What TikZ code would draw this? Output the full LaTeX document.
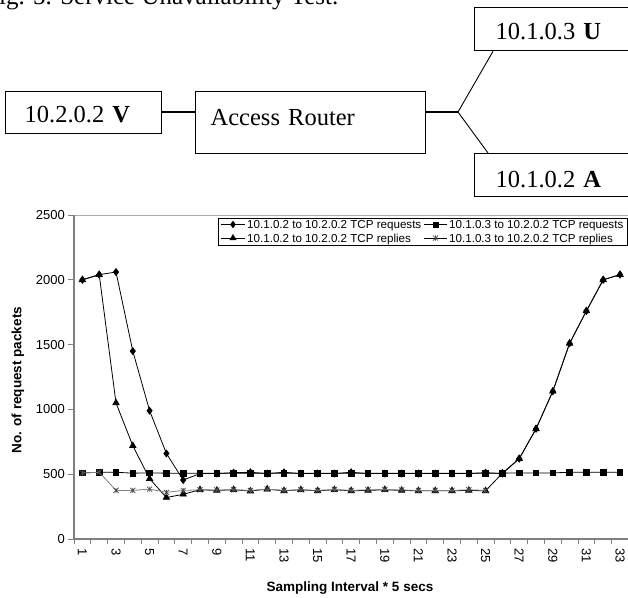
\documentclass[tikz,border=0pt]{standalone}
\usepackage{fontspec}
\setmainfont{Liberation Serif}
\newfontfamily\arialf{Liberation Sans}
\usetikzlibrary{plotmarks,calc}
\definecolor{axgray}{RGB}{128,128,128}
\definecolor{topgray}{RGB}{170,170,170}
\pgfdeclareplotmark{xstar}{%
  \pgfpathmoveto{\pgfqpoint{-\pgfplotmarksize}{-\pgfplotmarksize}}%
  \pgfpathlineto{\pgfqpoint{\pgfplotmarksize}{\pgfplotmarksize}}%
  \pgfpathmoveto{\pgfqpoint{-\pgfplotmarksize}{\pgfplotmarksize}}%
  \pgfpathlineto{\pgfqpoint{\pgfplotmarksize}{-\pgfplotmarksize}}%
  \pgfpathmoveto{\pgfqpoint{0pt}{-\pgfplotmarksize}}%
  \pgfpathlineto{\pgfqpoint{0pt}{\pgfplotmarksize}}%
  \pgfusepathqstroke}
\begin{document}
\begin{tikzpicture}[x=1pt,y=-1pt,
  diag/.style={draw, line width=1.3pt, anchor=north west, align=left, inner ysep=0pt,
    font=\fontsize{24.5}{28}\selectfont},
  conn/.style={line width=1.1pt},
  ticklab/.style={font=\arialf\fontsize{13}{15}\selectfont, inner sep=0pt},
  legtext/.style={font=\arialf\fontsize{11.6}{13}\selectfont, inner sep=0pt, anchor=base west},
  series/.style={line width=0.8pt},
  dmd/.style={mark=diamond*, mark size=3.4pt},
  sqr/.style={mark=square*, mark size=2.8pt},
  tri/.style={mark=triangle*, mark size=3.6pt},
  crs/.style={mark=xstar, mark size=2.6pt, mark options={draw=black!70, line width=0.7pt}}
]
\useasboundingbox[fill=white] (0,0) rectangle (628,597);

% caption (cut at top, as in the reference)
\node[anchor=base west, inner sep=0pt, font=\fontsize{25}{30}\selectfont] (cap) at (-1,5) {ig. 5. Service Unavailability Test.};

% network diagram
\node[diag, minimum width=156pt, minimum height=42pt, text width=118pt, inner xsep=19pt,
  text height=20pt, text depth=0pt] (v) at (5,91) {10.2.0.2 \textbf{V}};
\node[diag, minimum width=230pt, minimum height=62pt, text width=200pt, inner xsep=15pt,
  text height=16pt, text depth=10pt] (ar) at (195,91) {Access Router};
\node[diag, minimum width=190pt, minimum height=43pt, text width=148pt, inner xsep=21pt,
  text height=21pt, text depth=0pt] (u) at (474,7) {10.1.0.3 \textbf{U}};
\node[diag, minimum width=190pt, minimum height=43pt, text width=148pt, inner xsep=21pt,
  text height=25pt, text depth=0pt] (a) at (474,153) {10.1.0.2 \textbf{A}};
\coordinate (br) at (458,112);
\draw[conn] (v.east |- br) -- (ar.west |- br);
\draw[conn] (ar.east |- br) -- (br);
\draw[line width=0.9pt] (br) -- ($(u.south west)+(19,0)$);
\draw[line width=0.9pt] (br) -- ($(a.north west)+(14,0)$);

% chart axes
\draw[topgray, line width=1pt] (74,215) -- (628,215);
\draw[axgray, line width=1.4pt] (74,215) -- (74,539) -- (628,539);
\foreach \v in {0,500,...,2500} {
  \draw[axgray, line width=1pt] (68,{539-0.1296*\v}) -- (74,{539-0.1296*\v});
  \node[ticklab, anchor=east] (yl\v) at (65,{539-0.1296*\v}) {\v};
}
\foreach \k in {0,...,33} {
  \draw[axgray, line width=1pt] ({74+16.8*\k},539) -- ({74+16.8*\k},544);
}
\foreach \i in {1,3,...,33} {
  \node[ticklab, rotate=-90, anchor=west] (xl\i) at ({65.6+16.8*\i},548) {\i};
}
\node[rotate=90, font=\arialf\bfseries\fontsize{13.5}{16}\selectfont] (ytitle) at (18,380) {No. of request packets};
\node[anchor=base, font=\arialf\bfseries\fontsize{13.5}{16}\selectfont] (xtitle) at (350,591) {Sampling Interval * 5 secs};

% data
\begin{scope}[shift={(65.6,539)}, x=16.8pt, y=0.1296pt]
\draw[series] plot[dmd] coordinates {(1,2000) (2,2040) (3,2060) (4,1450) (5,990) (6,660) (7,455) (8,505) (9,505) (10,512) (11,515) (12,505) (13,515) (14,505) (15,505) (16,505) (17,515) (18,505) (19,505) (20,505) (21,505) (22,505) (23,505) (24,505) (25,512) (26,505) (27,620) (28,850) (29,1140) (30,1510) (31,1760) (32,2000) (33,2040)};
\draw[series] plot[sqr] coordinates {(1,510) (2,515) (3,515) (4,508) (5,510) (6,508) (7,508) (8,508) (9,508) (10,508) (11,508) (12,508) (13,508) (14,508) (15,508) (16,508) (17,508) (18,508) (19,508) (20,508) (21,508) (22,508) (23,508) (24,508) (25,508) (26,508) (27,510) (28,510) (29,510) (30,515) (31,515) (32,515) (33,515)};
\draw[series] plot[tri] coordinates {(1,2000) (2,2040) (3,1050) (4,720) (5,465) (6,320) (7,345) (8,380) (9,375) (10,380) (11,370) (12,385) (13,372) (14,380) (15,372) (16,380) (17,372) (18,375) (19,380) (20,375) (21,372) (22,372) (23,372) (24,375) (25,372) (26,508) (27,620) (28,850) (29,1140) (30,1510) (31,1760) (32,2000) (33,2040)};
\draw[series, axgray] plot[crs] coordinates {(1,510) (2,515) (3,375) (4,375) (5,385) (6,360) (7,375) (8,380) (9,378) (10,380) (11,375) (12,385) (13,375) (14,380) (15,375) (16,382) (17,375) (18,380) (19,382) (20,378) (21,375) (22,375) (23,375) (24,380) (25,375)};
\end{scope}

% legend
\node[draw, fill=white, line width=0.8pt, minimum width=409pt, minimum height=27pt, anchor=north west, inner sep=0pt] (leg) at (218,218) {};
\draw[series] (221,224.5) -- (245,224.5);
\draw plot[dmd, only marks] coordinates {(233,224.5)};
\node[legtext] (l1) at (247,228.5) {10.1.0.2 to 10.2.0.2 TCP requests};
\draw[series] (424,224.5) -- (447,224.5);
\draw plot[sqr, only marks] coordinates {(435.5,224.5)};
\node[legtext] (l2) at (449,228.5) {10.1.0.3 to 10.2.0.2 TCP requests};
\draw[series] (221,238) -- (245,238);
\draw plot[tri, only marks] coordinates {(233,238)};
\node[legtext] (l3) at (247,242) {10.1.0.2 to 10.2.0.2 TCP replies};
\draw[series] (424,238) -- (447,238);
\draw plot[crs, only marks] coordinates {(435.5,238)};
\node[legtext] (l4) at (449,242) {10.1.0.3 to 10.2.0.2 TCP replies};
\end{tikzpicture}
\end{document}
